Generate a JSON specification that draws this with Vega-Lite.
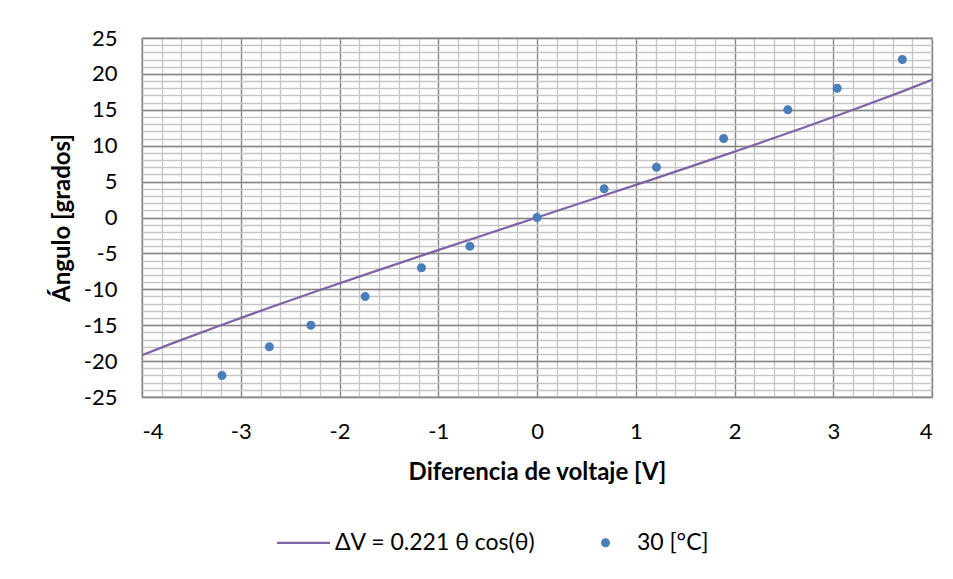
{
  "$schema": "https://vega.github.io/schema/vega-lite/v6.json",
  "width": 790,
  "height": 359,
  "autosize": {"type": "none"},
  "padding": {"left": 142, "top": 38, "right": 21, "bottom": 182},
  "background": "white",
  "config": {
    "font": "Lato, Open Sans",
    "view": {"stroke": "#868686", "strokeWidth": 1.3},
    "axis": {"labelFont": "Lato, Open Sans", "titleFont": "Lato, Open Sans", "labelColor": "#000000", "titleColor": "#000000"}
  },
  "datasets": {
    "curve": [
      {"dv": -4.0, "ang": -19.17, "series": "ΔV = 0.221 θ cos(θ)"},
      {"dv": -3.6886, "ang": -17.5, "series": "ΔV = 0.221 θ cos(θ)"},
      {"dv": -3.202, "ang": -15, "series": "ΔV = 0.221 θ cos(θ)"},
      {"dv": -2.697, "ang": -12.5, "series": "ΔV = 0.221 θ cos(θ)"},
      {"dv": -2.176, "ang": -10, "series": "ΔV = 0.221 θ cos(θ)"},
      {"dv": -1.643, "ang": -7.5, "series": "ΔV = 0.221 θ cos(θ)"},
      {"dv": -1.101, "ang": -5, "series": "ΔV = 0.221 θ cos(θ)"},
      {"dv": -0.552, "ang": -2.5, "series": "ΔV = 0.221 θ cos(θ)"},
      {"dv": 0, "ang": 0, "series": "ΔV = 0.221 θ cos(θ)"},
      {"dv": 0.552, "ang": 2.5, "series": "ΔV = 0.221 θ cos(θ)"},
      {"dv": 1.101, "ang": 5, "series": "ΔV = 0.221 θ cos(θ)"},
      {"dv": 1.643, "ang": 7.5, "series": "ΔV = 0.221 θ cos(θ)"},
      {"dv": 2.176, "ang": 10, "series": "ΔV = 0.221 θ cos(θ)"},
      {"dv": 2.697, "ang": 12.5, "series": "ΔV = 0.221 θ cos(θ)"},
      {"dv": 3.202, "ang": 15, "series": "ΔV = 0.221 θ cos(θ)"},
      {"dv": 3.6886, "ang": 17.5, "series": "ΔV = 0.221 θ cos(θ)"},
      {"dv": 4.0, "ang": 19.17, "series": "ΔV = 0.221 θ cos(θ)"}
    ],
    "meas": [
      {"dv": -3.19, "ang": -22, "series": "30 [°C]"},
      {"dv": -2.71, "ang": -18, "series": "30 [°C]"},
      {"dv": -2.29, "ang": -15, "series": "30 [°C]"},
      {"dv": -1.74, "ang": -11, "series": "30 [°C]"},
      {"dv": -1.17, "ang": -7, "series": "30 [°C]"},
      {"dv": -0.68, "ang": -4, "series": "30 [°C]"},
      {"dv": 0.0, "ang": 0, "series": "30 [°C]"},
      {"dv": 0.68, "ang": 4, "series": "30 [°C]"},
      {"dv": 1.21, "ang": 7, "series": "30 [°C]"},
      {"dv": 1.89, "ang": 11, "series": "30 [°C]"},
      {"dv": 2.54, "ang": 15, "series": "30 [°C]"},
      {"dv": 3.04, "ang": 18, "series": "30 [°C]"},
      {"dv": 3.70, "ang": 22, "series": "30 [°C]"}
    ]
  },
  "layer": [
    {
      "data": {"name": "curve"},
      "mark": {"type": "line", "strokeWidth": 2.25, "clip": true},
      "encoding": {
        "x": {
          "field": "dv", "type": "quantitative",
          "scale": {"domain": [-4, 4], "nice": false, "zero": false},
          "axis": {
            "orient": "bottom", "values": [-4,-3.8,-3.6,-3.4,-3.2,-3,-2.8,-2.6,-2.4,-2.2,-2,-1.8,-1.6,-1.4,-1.2,-1,-0.8,-0.6,-0.4,-0.2,0,0.2,0.4,0.6,0.8,1,1.2,1.4,1.6,1.8,2,2.2,2.4,2.6,2.8,3,3.2,3.4,3.6,3.8,4],
            "grid": true, "gridColor": "#C6C6C6", "gridWidth": 1.3,
            "labels": false, "ticks": false, "domain": false, "title": null
          }
        },
        "y": {
          "field": "ang", "type": "quantitative",
          "scale": {"domain": [-25, 25], "nice": false, "zero": false},
          "axis": {
            "orient": "left", "values": [-25,-24,-23,-22,-21,-20,-19,-18,-17,-16,-15,-14,-13,-12,-11,-10,-9,-8,-7,-6,-5,-4,-3,-2,-1,0,1,2,3,4,5,6,7,8,9,10,11,12,13,14,15,16,17,18,19,20,21,22,23,24,25],
            "grid": true, "gridColor": "#C6C6C6", "gridWidth": 1.3,
            "labels": false, "ticks": false, "domain": false, "title": null
          }
        },
        "color": {
          "field": "series", "type": "nominal",
          "scale": {"domain": ["ΔV = 0.221 θ cos(θ)", "30 [°C]"], "range": ["#7F63A8", "#4A7EBB"]},
          "legend": {
            "title": null, "orient": "none", "legendX": 135, "legendY": 493,
            "direction": "horizontal", "symbolSize": 2809, "labelFontSize": 23, "labelLimit": 400,
            "labelFont": "Lato, Open Sans", "labelColor": "#000000", "labelOffset": 35, "columnPadding": 43,
            "symbolOpacity": 1,
            "encode": {"symbols": {"update": {
              "x": {"value": 26.5},
              "fill": {"scale": "color", "field": "value"},
              "stroke": {"scale": "color", "field": "value"},
              "strokeWidth": {"signal": "datum.value === '30 [°C]' ? 0 : 2.25"},
              "opacity": {"value": 1}
            }}}
          }
        },
        "shape": {
          "field": "series", "type": "nominal",
          "scale": {"domain": ["ΔV = 0.221 θ cos(θ)", "30 [°C]"], "range": ["M-1,0H1", "M-0.17,0A0.17,0.17 0 1,0 0.17,0A0.17,0.17 0 1,0 -0.17,0Z"]}
        }
      }
    },
    {
      "data": {"name": "meas"},
      "mark": {"type": "point", "filled": true, "opacity": 1, "size": 2809},
      "encoding": {
        "x": {
          "field": "dv", "type": "quantitative",
          "scale": {"domain": [-4, 4], "nice": false, "zero": false},
          "axis": {
            "orient": "bottom", "values": [-4,-3,-2,-1,0,1,2,3,4],
            "grid": true, "gridColor": "#868686", "gridWidth": 1.3,
            "ticks": false, "domain": false,
            "labelFontSize": 22, "labelPadding": 24, "labelExpr": "'' + datum.value",
            "title": "Diferencia de voltaje [V]", "titleFontSize": 24, "titleFontWeight": "bold", "titlePadding": 18
          }
        },
        "y": {
          "field": "ang", "type": "quantitative",
          "scale": {"domain": [-25, 25], "nice": false, "zero": false},
          "axis": {
            "orient": "left", "values": [-25,-20,-15,-10,-5,0,5,10,15,20,25],
            "grid": true, "gridColor": "#868686", "gridWidth": 1.3,
            "ticks": false, "domain": false,
            "labelFontSize": 22, "labelPadding": 25, "labelExpr": "'' + datum.value",
            "title": "Ángulo [grados]", "titleFontSize": 24, "titleFontWeight": "bold", "titlePadding": 9
          }
        },
        "color": {"field": "series", "type": "nominal"},
        "shape": {"field": "series", "type": "nominal"}
      }
    }
  ],
  "resolve": {"axis": {"x": "independent", "y": "independent"}}
}
